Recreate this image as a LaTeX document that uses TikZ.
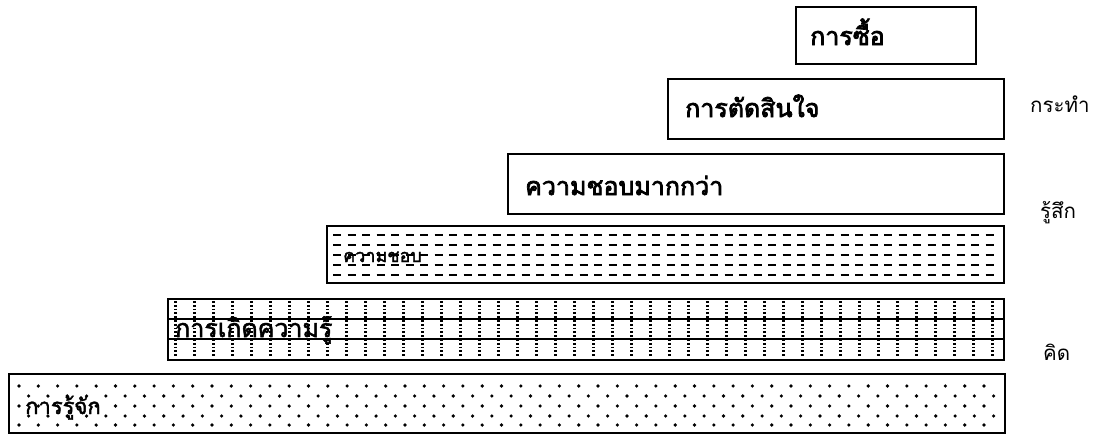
\documentclass[tikz,border=0pt]{standalone}
\usepackage{fontspec}
\newfontfamily\thai[Script=Thai]{Loma}
\newfontfamily\thaiheavy[Script=Thai,FakeBold=3]{Loma}
\newfontfamily\thaimid[Script=Thai,FakeBold=2]{Loma}
\begin{document}
\begin{tikzpicture}[x=1pt,y=-1pt,
  box/.style={draw=black, line width=1.6pt, anchor=north west, inner sep=0pt, fill=white},
  bold label/.style={anchor=base west, font=\thaiheavy\fontsize{25}{28}\selectfont, inner sep=0pt},
  plain label/.style={anchor=base west, font=\thaimid\fontsize{22}{26}\selectfont, inner sep=0pt},
  side label/.style={anchor=base west, font=\thai\fontsize{20.5}{24}\selectfont, inner sep=0pt},
  dashmark/.style={line width=1.9pt},
  gridline/.style={line width=1.2pt},
  dotcol/.style={line width=2.5pt, dash pattern=on 1.8pt off 2pt},
]
\useasboundingbox (0,0) rectangle (1097,434);

% boxes
\node[box, minimum width=180, minimum height=57] (buy) at (795,6) {};
\node[box, minimum width=336, minimum height=60] (decide) at (667,78) {};
\node[box, minimum width=496, minimum height=60] (prefer) at (507,153) {};
\node[box, minimum width=677, minimum height=57] (like) at (326,225) {};
\node[box, minimum width=836, minimum height=61] (aware) at (167,298) {};
\node[box, minimum width=996, minimum height=59] (know) at (8,373) {};

% pattern: dashes in "like"
\foreach \yy in {235,245,255,265,275}
  \foreach \xx in {333,347.5,...,995}
    \draw[dashmark] (\xx,\yy) -- ++(8,0);

% pattern: grid in "aware"
\draw[gridline] (aware.west |- 0,319) -- (aware.east |- 0,319);
\draw[gridline] (aware.west |- 0,339) -- (aware.east |- 0,339);
\foreach \xx in {175.7,194.7,...,1000}
  \draw[dotcol] (\xx,301) -- (\xx,357);

% pattern: dots in "know"
\foreach \yy in {386,406,425}
  \foreach \xx in {19,38.3,...,1000}
    \fill (\xx,\yy) circle (1.8);
\foreach \yy in {396,416}
  \foreach \xx in {28.65,47.95,...,1000}
    \fill (\xx,\yy) circle (1.8);

% labels inside boxes
\node[bold label] (buyT) at (810,45) {การซื้อ};
\node[bold label] (decideT) at (685,117) {การตัดสินใจ};
\node[bold label] (preferT) at (525,195) {ความชอบมากกว่า};
\node[plain label, font=\thaimid\fontsize{18}{21}\selectfont] (likeT) at (343,262) {ความชอบ};
\node[plain label, font=\thaimid\fontsize{25}{28}\selectfont] (awareT) at (175,337) {การเกิดความรู้};
\node[plain label] (knowT) at (25,414) {การรู้จัก};

% side labels
\node[side label] (act) at (1030,112) {กระทำ};
\node[side label] (feel) at (1040,218) {รู้สึก};
\node[side label] (think) at (1043,360) {คิด};
\end{tikzpicture}
\end{document}
